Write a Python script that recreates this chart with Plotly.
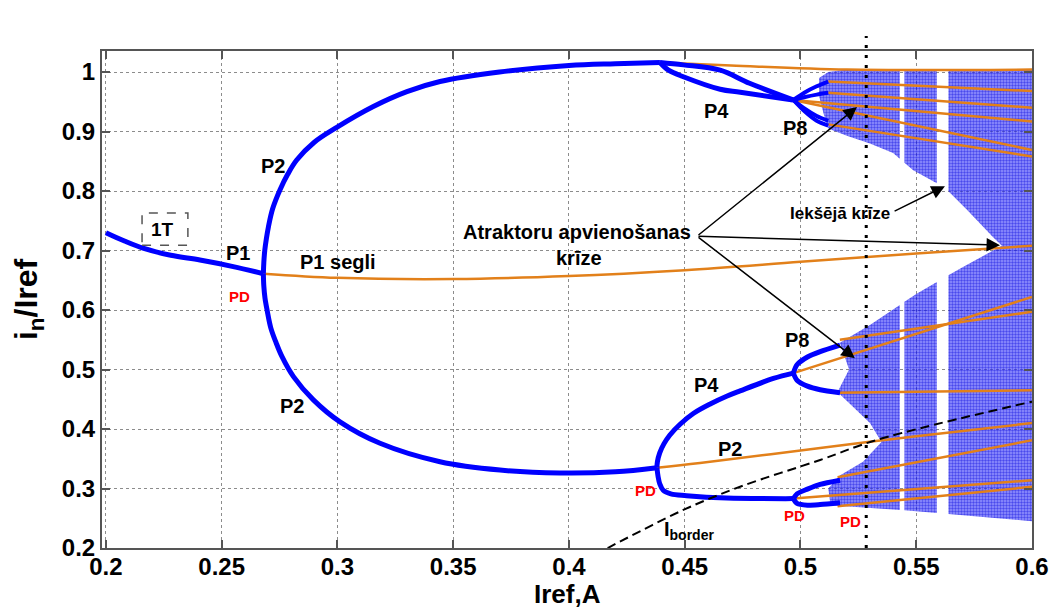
import plotly.graph_objects as go

# ---------------- data ----------------
# stable period-1 branch
p1_x = [0.2, 0.208, 0.216, 0.228, 0.2406, 0.255, 0.268]
p1_y = [0.730, 0.716, 0.704, 0.692, 0.684, 0.673, 0.661]

# stable period-2 branches
p2u_x = [0.268, 0.2682, 0.2686, 0.2693, 0.2702, 0.2720, 0.2752, 0.2785, 0.2824, 0.2900, 0.2997, 0.3155, 0.3300, 0.3443, 0.3700, 0.4000, 0.4200, 0.4393]
p2u_y = [0.661, 0.680, 0.700, 0.720, 0.740, 0.770, 0.802, 0.828, 0.852, 0.882, 0.907, 0.942, 0.967, 0.984, 1.000, 1.011, 1.014, 1.016]
p2l_x = [0.268, 0.2682, 0.2687, 0.2696, 0.2712, 0.2735, 0.2760, 0.2810, 0.2896, 0.3011, 0.3184, 0.3443, 0.3702, 0.3960, 0.4200, 0.4380]
p2l_y = [0.661, 0.640, 0.620, 0.600, 0.570, 0.545, 0.522, 0.488, 0.449, 0.412, 0.376, 0.345, 0.331, 0.326, 0.328, 0.335]

# stable period-4 branches (upper pair, lower pair)
p4a_x = [0.4393, 0.4494, 0.4653, 0.4780, 0.4968]
p4a_y = [1.016, 1.012, 1.003, 0.981, 0.953]
p4b_x = [0.4393, 0.4430, 0.4494, 0.4653, 0.4740, 0.4968]
p4b_y = [1.016, 1.003, 0.992, 0.971, 0.966, 0.953]
p4c_x = [0.4380, 0.4382, 0.4392, 0.4410, 0.4436, 0.4480, 0.4537, 0.4610, 0.4681, 0.4739, 0.4883, 0.4969]
p4c_y = [0.335, 0.345, 0.360, 0.375, 0.390, 0.408, 0.426, 0.442, 0.455, 0.464, 0.485, 0.494]
p4d_x = [0.4380, 0.4385, 0.4392, 0.4407, 0.4440, 0.4508, 0.4681, 0.4969]
p4d_y = [0.335, 0.320, 0.308, 0.297, 0.291, 0.288, 0.284, 0.283]

# stable period-8 branches
p8_x = [0.4969, 0.5020, 0.5070, 0.5120]
p8_1y = [0.953, 0.966, 0.976, 0.984]
p8_2y = [0.953, 0.958, 0.962, 0.965]
p8_3y = [0.953, 0.938, 0.926, 0.918]
p8_4y = [0.953, 0.933, 0.918, 0.910]
p8b_x = [0.4969, 0.4985, 0.5030, 0.5085, 0.5171]
p8_5y = [0.494, 0.508, 0.521, 0.530, 0.541]
p8_6y = [0.494, 0.482, 0.472, 0.466, 0.461]
p8_7y = [0.283, 0.291, 0.299, 0.307, 0.314]
p8_8y = [0.283, 0.275, 0.272, 0.273, 0.276]

# unstable (saddle) orbits
u1_x = [0.268, 0.30, 0.35, 0.40, 0.45, 0.50, 0.55, 0.60]
u1_y = [0.661, 0.654, 0.652, 0.657, 0.667, 0.681, 0.695, 0.708]
u2_x = [0.4393, 0.47, 0.52, 0.60]
u2_y = [1.016, 1.011, 1.004, 1.004]
u3_x = [0.438, 0.4566, 0.5085, 0.55, 0.60]
u3_y = [0.335, 0.343, 0.368, 0.388, 0.410]
unstable_start_x = [0.512, 0.512, 0.4968, 0.4968, 0.512, 0.4969, 0.517, 0.5157, 0.516, 0.4969, 0.516]
unstable_start_y = [0.984, 0.965, 0.953, 0.953, 0.912, 0.494, 0.550, 0.461, 0.319, 0.283, 0.270]
unstable_end_x = [0.60] * 11
unstable_end_y = [0.968, 0.940, 0.917, 0.869, 0.858, 0.622, 0.597, 0.465, 0.381, 0.314, 0.303]

# chaotic attractor outline
chaos_x = [0.508, 0.512, 0.520, 0.600, 0.600, 0.550, 0.513, 0.512, 0.517, 0.527, 0.535, 0.530, 0.522,
           0.516, 0.521, 0.517, 0.530, 0.550, 0.570, 0.587, 0.583, 0.572, 0.5625, 0.5487, 0.540, 0.530,
           0.520, 0.512, 0.510, 0.508]
chaos_y = [0.990, 1.000, 1.004, 1.004, 0.245, 0.262, 0.272, 0.300, 0.322, 0.345, 0.378, 0.410, 0.440,
           0.462, 0.500, 0.545, 0.575, 0.627, 0.672, 0.708, 0.723, 0.768, 0.805, 0.835, 0.864, 0.880,
           0.893, 0.905, 0.930, 0.960]
# periodic windows (white gaps in the chaos)
window_lo = [0.5429, 0.5589]
window_hi = [0.5449, 0.5639]

# border current curve
border_x = [0.4167, 0.4177, 0.4494, 0.4739, 0.5085, 0.5333, 0.60]
border_y = [0.200, 0.202, 0.264, 0.303, 0.348, 0.382, 0.446]

npb_x = 0.5284

x_ticks = [0.2, 0.25, 0.3, 0.35, 0.4, 0.45, 0.5, 0.55, 0.6]
x_ticklabels = ["0.2", "0.25", "0.3", "0.35", "0.4", "0.45", "0.5", "0.55", "0.6"]
y_ticks = [0.2, 0.3, 0.4, 0.5, 0.6, 0.7, 0.8, 0.9, 1.0]
y_ticklabels = ["0.2", "0.3", "0.4", "0.5", "0.6", "0.7", "0.8", "0.9", "1"]

# ---------------- styling ----------------
BLUE = "#0000FF"
ORANGE = "#E2801A"
FONT = "Liberation Sans, Arial, sans-serif"


def clip(pts, xb, keep_greater):
    out = []
    n = len(pts)
    for i in range(n):
        p = pts[i]
        q = pts[(i + 1) % n]
        pin = p[0] >= xb if keep_greater else p[0] <= xb
        qin = q[0] >= xb if keep_greater else q[0] <= xb
        if pin:
            out.append(p)
        if pin != qin:
            t = (xb - p[0]) / (q[0] - p[0])
            out.append((xb, p[1] + t * (q[1] - p[1])))
    return out


fig = go.Figure()

# chaotic region, split by the periodic windows
bounds = [min(chaos_x) - 0.01] + [v for pair in zip(window_lo, window_hi) for v in pair] + [max(chaos_x) + 0.01]
cx, cy = [], []
base = list(zip(chaos_x, chaos_y))
for a, b in zip(bounds[0::2], bounds[1::2]):
    poly = clip(clip(base, a, True), b, False)
    if poly:
        cx += [p[0] for p in poly] + [poly[0][0], None]
        cy += [p[1] for p in poly] + [poly[0][1], None]
fig.add_trace(go.Scatter(
    x=cx, y=cy, mode="lines", fill="toself", line=dict(width=0),
    fillcolor="rgba(30,30,240,0.6)",
    fillpattern=dict(shape=".", fgcolor="#0000dd", bgcolor="rgba(60,60,250,0.55)", size=3, solidity=0.5),
    hoverinfo="skip", showlegend=False))

# unstable orbits
for xs, ys in [(u1_x, u1_y), (u2_x, u2_y), (u3_x, u3_y)]:
    fig.add_trace(go.Scatter(x=xs, y=ys, mode="lines", line=dict(color=ORANGE, width=2.5, shape="spline", smoothing=1),
                             hoverinfo="skip", showlegend=False))
for x0, y0, x1, y1 in zip(unstable_start_x, unstable_start_y, unstable_end_x, unstable_end_y):
    fig.add_trace(go.Scatter(x=[x0, x1], y=[y0, y1], mode="lines", line=dict(color=ORANGE, width=2.5),
                             hoverinfo="skip", showlegend=False))

# stable branches
stable = [(p1_x, p1_y, 5, 1), (p2u_x, p2u_y, 5, 1), (p2l_x, p2l_y, 5, 1), (p4a_x, p4a_y, 5, 1),
          (p4b_x, p4b_y, 5, 1), (p4c_x, p4c_y, 5, 1), (p4d_x, p4d_y, 5, 1), (p8_x, p8_1y, 4, 0.8),
          (p8_x, p8_2y, 4, 0.8), (p8_x, p8_3y, 4, 0.8), (p8_x, p8_4y, 4, 0.8), (p8b_x, p8_5y, 5, 0.7),
          (p8b_x, p8_6y, 5, 0.7), (p8b_x, p8_7y, 5, 0.7), (p8b_x, p8_8y, 5, 0.7)]
for xs, ys, w, sm in stable:
    fig.add_trace(go.Scatter(x=xs, y=ys, mode="lines", line=dict(color=BLUE, width=w, shape="spline", smoothing=sm),
                             hoverinfo="skip", showlegend=False))

# border current
fig.add_trace(go.Scatter(x=border_x, y=border_y, mode="lines",
                         line=dict(color="black", width=2, dash="9px,5px", shape="spline", smoothing=1),
                         hoverinfo="skip", showlegend=False))

# NPB-1T line
fig.add_shape(type="line", xref="x", yref="paper", x0=npb_x, x1=npb_x, y0=0, y1=1.03,
              line=dict(color="black", width=3, dash="3px,7px"), layer="above")
# 1T dashed box
fig.add_shape(type="rect", xref="x", yref="y", x0=0.2156, x1=0.2354, y0=0.709, y1=0.763,
              line=dict(color="#555555", width=1.5, dash="dash"))


def label(x, y, text, size=20, color="black"):
    fig.add_annotation(x=x, y=y, xref="x", yref="y", text="<b>" + text + "</b>", showarrow=False,
                       font=dict(family=FONT, size=size, color=color))


label(0.2246, 0.736, "1T", 19)
label(0.2570, 0.696, "P1", 20)
label(0.2575, 0.622, "PD", 15, "red")
label(0.2721, 0.842, "P2", 20)
label(0.3002, 0.681, "P1 segli", 20)
label(0.2803, 0.439, "P2", 20)
label(0.4035, 0.731, "Atraktoru apvienošanas", 20)
label(0.4043, 0.688, "krīze", 20)
label(0.4639, 0.934, "P4", 20)
label(0.4976, 0.906, "P8", 20)
label(0.5171, 0.763, "Iekšējā krīze", 17)
label(0.4985, 0.550, "P8", 20)
label(0.4596, 0.474, "P4", 20)
label(0.4696, 0.366, "P2", 20)
label(0.4329, 0.296, "PD", 15, "red")
label(0.4976, 0.254, "PD", 15, "red")
label(0.5214, 0.244, "PD", 15, "red")
label(0.4520, 0.229, "I<sub>border</sub>", 20)
label(npb_x, 1.082, "NPB-1T", 17)

# axis titles
fig.add_annotation(x=0.5, y=-0.1247, xref="paper", yref="paper", text="<b>Iref,A</b>", showarrow=False,
                   xanchor="center", yanchor="bottom", borderpad=0,
                   font=dict(family=FONT, size=26, color="black"))
fig.add_annotation(x=-0.079, y=0.5, xref="paper", yref="paper", text="<b>i<sub>n</sub>/Iref</b>", showarrow=False,
                   textangle=-90, xanchor="center", yanchor="middle", font=dict(family=FONT, size=32, color="black"))

# arrows
arrow_tail = (0.4553, 0.724)
for hx, hy in [(0.5244, 0.941), (0.5862, 0.709), (0.5235, 0.519)]:
    fig.add_annotation(x=hx, y=hy, ax=arrow_tail[0], ay=arrow_tail[1], xref="x", yref="y", axref="x", ayref="y",
                       text="", showarrow=True, arrowhead=2, arrowsize=1.8, arrowwidth=1.5, arrowcolor="black")
fig.add_annotation(x=0.5624, y=0.808, ax=0.540, ay=0.765, xref="x", yref="y", axref="x", ayref="y",
                   text="", showarrow=True, arrowhead=2, arrowsize=1.8, arrowwidth=1.5, arrowcolor="black")

axis_common = dict(showline=True, linecolor="#555555", linewidth=2, mirror="ticks", ticks="inside",
                   ticklen=8, tickwidth=2, tickcolor="#555555", showgrid=True, gridcolor="#8c8c8c",
                   gridwidth=1, griddash="dot", zeroline=False, automargin=False,
                   tickfont=dict(family=FONT, size=24, color="black", weight="bold"))

fig.update_layout(
    width=1052, height=610,
    margin=dict(l=102, r=20, t=51, b=62),
    paper_bgcolor="white", plot_bgcolor="white",
    xaxis=dict(range=[0.1983, 0.6], tickvals=x_ticks, ticktext=x_ticklabels, ticklabelstandoff=-4, **axis_common),
    yaxis=dict(range=[0.2, 1.0353], tickvals=y_ticks, ticktext=y_ticklabels, **axis_common),
)

fig.write_html("out.html")
